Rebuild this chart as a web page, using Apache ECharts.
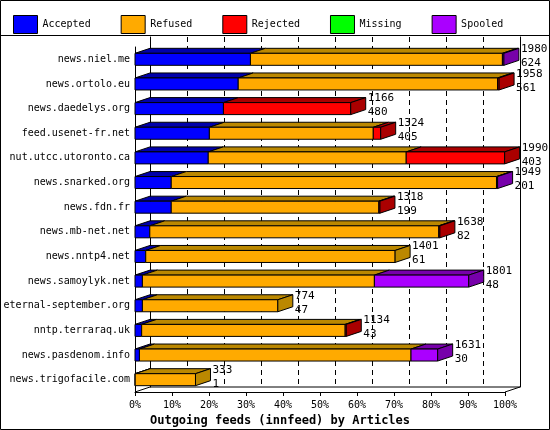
<!DOCTYPE html>
<html><head><meta charset="utf-8">
<script src="https://cdn.jsdelivr.net/npm/echarts@6/dist/echarts.min.js"></script>
<style>html,body{margin:0;background:#fff}#c{width:550px;height:430px}</style>
</head><body><div id="c"></div>
<script>
const hosts = ['news.niel.me', 'news.ortolo.eu', 'news.daedelys.org', 'feed.usenet-fr.net',
  'nut.utcc.utoronto.ca', 'news.snarked.org', 'news.fdn.fr', 'news.mb-net.net', 'news.nntp4.net',
  'news.samoylyk.net', 'eternal-september.org', 'nntp.terraraq.uk', 'news.pasdenom.info', 'news.trigofacile.com'];
// segment widths in % of scale
const accepted = [31.2, 27.9, 23.9, 20.1, 19.8, 9.8, 9.8, 4.0, 2.9, 2.0, 2.0, 1.8, 1.2, 0.05];
const refused  = [68.1, 70.1, 0,    44.3, 53.5, 87.9, 56.1, 78.1, 67.4, 62.7, 36.6, 55.0, 73.4, 16.3];
const rejected = [0,    0.4,  34.4, 2.0,  26.6, 0,    0.3,  0.3,  0,    0,    0,    0.3,  0,    0];
const missing  = [0,    0,    0,    0,    0,    0,    0,    0,    0,    0,    0,    0,    0,    0];
const spooled  = [0.4,  0,    0,    0,    0,    0.3,  0,    0,    0,    25.5, 0,    0,    7.2,  0];
const totals   = [1980, 1958, 1166, 1324, 1990, 1949, 1318, 1638, 1401, 1801, 774, 1134, 1631, 333];
const acceptedCounts = [624, 561, 480, 405, 403, 201, 199, 82, 61, 48, 47, 43, 30, 1];
const xTicks = ['0%', '10%', '20%', '30%', '40%', '50%', '60%', '70%', '80%', '90%', '100%'];

const segs = [
  {name: 'Accepted', vals: accepted, front: '#0000ff', top: '#0000aa'},
  {name: 'Refused', vals: refused, front: '#ffaa00', top: '#bb8800'},
  {name: 'Rejected', vals: rejected, front: '#ff0000', top: '#aa0000'},
  {name: 'Missing', vals: missing, front: '#00ff00', top: '#00aa00'},
  {name: 'Spooled', vals: spooled, front: '#aa00ff', top: '#7700aa'}
];
const D = 15, DY = 5, FONT = 'DejaVu Sans Mono';

function lastSeg(i) {
  let last = 0;
  segs.forEach((s, k) => { if (s.vals[i] > 0) last = k; });
  return last;
}

const series = segs.map((s, k) => {
  const data = hosts.map((h, i) => {
    let start = 0;
    for (let j = 0; j < k; j++) start += segs[j].vals[i];
    return [start, start + s.vals[i], i];
  });
  return {
    name: s.name, type: 'custom', xAxisIndex: 0, yAxisIndex: 0,
    itemStyle: {color: s.front},
    encode: {x: [0, 1], y: 2},
    data: data,
    renderItem: function (params, api) {
      const i = api.value(2);
      if (s.vals[i] <= 0) return null;
      const p0 = api.coord([api.value(0), i]);
      const p1 = api.coord([api.value(1), i]);
      const x0 = p0[0], x1 = p1[0], yc = p0[1];
      const yt = yc - 6, yb = yc + 6;
      const st = {stroke: '#000', lineWidth: 1};
      const kids = [
        {type: 'polygon', shape: {points: [[x0, yt], [x1, yt], [x1 + D, yt - DY], [x0 + D, yt - DY]]},
          style: Object.assign({fill: s.top}, st)},
        {type: 'rect', shape: {x: x0, y: yt, width: x1 - x0, height: yb - yt},
          style: Object.assign({fill: s.front}, st)}
      ];
      if (lastSeg(i) === k) {
        kids.push({type: 'polygon', shape: {points: [[x1, yt], [x1 + D, yt - DY], [x1 + D, yb - DY], [x1, yb]]},
          style: Object.assign({fill: s.top}, st)});
        kids.push({type: 'text', style: {x: x1 + D + 2, y: yt - DY - 6,
          text: totals[i] + '\n' + acceptedCounts[i], font: '11px ' + FONT, fill: '#000', lineHeight: 14}});
      }
      return {type: 'group', children: kids};
    }
  };
});

const chart = echarts.init(document.getElementById('c'));
chart.setOption({
  animation: false,
  textStyle: {fontFamily: FONT},
  legend: {
    top: 10, left: 8, itemGap: 30, itemWidth: 24, itemHeight: 18, icon: 'rect',
    textStyle: {fontFamily: FONT, fontSize: 10, color: '#000'},
    itemStyle: {borderColor: '#000', borderWidth: 1},
    data: segs.map(s => s.name)
  },
  graphic: [
    {type: 'rect', shape: {x: 0.5, y: 0.5, width: 549, height: 429}, style: {fill: 'none', stroke: '#000', lineWidth: 1}},
    {type: 'line', shape: {x1: 0, y1: 35.5, x2: 550, y2: 35.5}, style: {stroke: '#000', lineWidth: 1}},
    {type: 'polyline', shape: {points: [[135, 392], [150, 387], [520, 387], [505, 392]]}, style: {fill: 'none', stroke: '#000'}}
  ],
  grid: [
    {left: 135, right: 45, top: 47, bottom: 38, outerBoundsMode: 'none'},
    {left: 150, right: 30, top: 37, bottom: 43, outerBoundsMode: 'none'}
  ],
  xAxis: [
    {type: 'value', gridIndex: 0, min: 0, max: 100, interval: 10, splitLine: {show: false},
      axisLine: {show: true, lineStyle: {color: '#000'}}, axisTick: {show: true, length: 4, lineStyle: {color: '#000'}},
      axisLabel: {color: '#000', fontSize: 10, fontFamily: FONT, formatter: (v) => xTicks[Math.round(v / 10)]},
      name: 'Outgoing feeds (innfeed) by Articles', nameLocation: 'middle', nameGap: 20,
      nameTextStyle: {fontFamily: FONT, fontSize: 12, fontWeight: 'bold', color: '#000', padding: [0, 0, 0, -80]}},
    {type: 'value', gridIndex: 1, min: 0, max: 100, interval: 10,
      axisLine: {show: false}, axisTick: {show: false}, axisLabel: {show: false},
      splitLine: {show: true, lineStyle: {color: '#000', type: [5, 4], width: 1}}}
  ],
  yAxis: [
    {type: 'category', gridIndex: 0, data: hosts, inverse: true,
      axisLine: {show: true, lineStyle: {color: '#000'}}, axisTick: {show: false},
      axisLabel: {color: '#000', fontSize: 10, fontFamily: FONT, margin: 5}},
    {type: 'category', gridIndex: 1, data: hosts, inverse: true,
      axisLine: {show: true, lineStyle: {color: '#000'}}, axisTick: {show: false}, axisLabel: {show: false}},
    {type: 'category', gridIndex: 1, data: hosts, inverse: true, position: 'right',
      axisLine: {show: true, onZero: false, lineStyle: {color: '#000'}}, axisTick: {show: false}, axisLabel: {show: false}}
  ],
  series: series
});
</script></body></html>
